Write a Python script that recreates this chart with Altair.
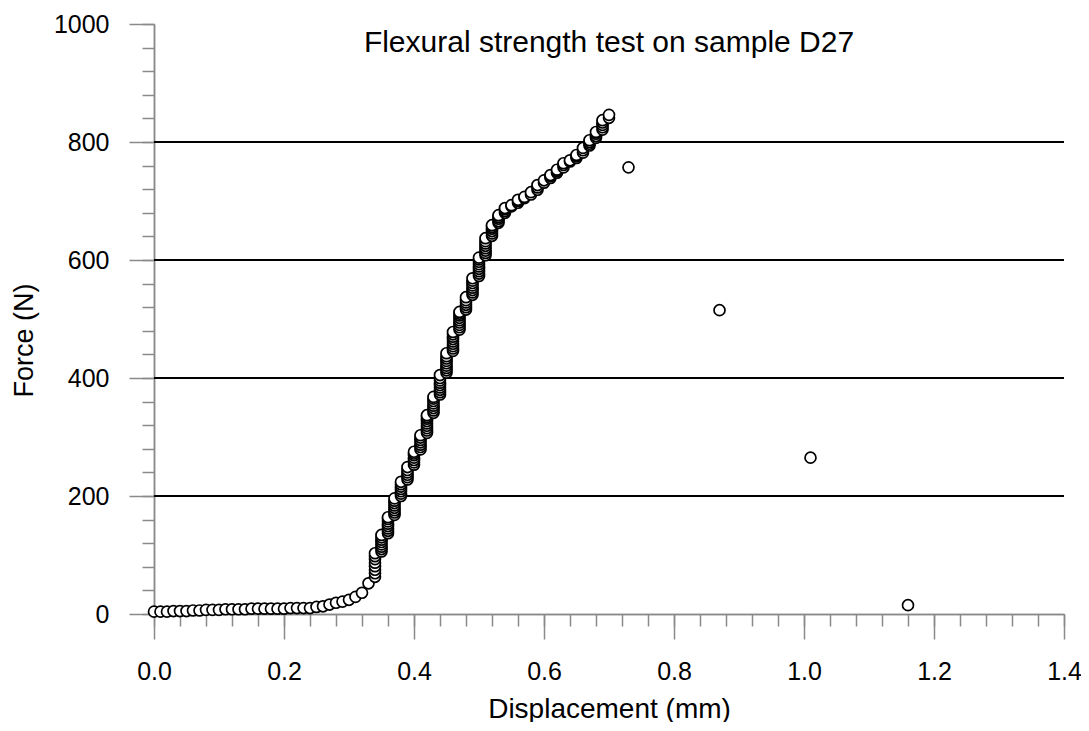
import altair as alt
import pandas as pd

TITLE = "Flexural strength test on sample D27"
X_TITLE = "Displacement (mm)"
Y_TITLE = "Force (N)"

# displacement columns (mm)
col_disp = [0.00, 0.01, 0.02, 0.03, 0.04, 0.05, 0.06, 0.07, 0.08, 0.09,
            0.10, 0.11, 0.12, 0.13, 0.14, 0.15, 0.16, 0.17, 0.18, 0.19,
            0.20, 0.21, 0.22, 0.23, 0.24, 0.25, 0.26, 0.27, 0.28, 0.29,
            0.30, 0.31, 0.32, 0.33, 0.34, 0.35, 0.36, 0.37, 0.38, 0.39,
            0.40, 0.41, 0.42, 0.43, 0.44, 0.45, 0.46, 0.47, 0.48, 0.49,
            0.50, 0.51, 0.52, 0.53, 0.54, 0.55, 0.56, 0.57, 0.58, 0.59,
            0.60, 0.61, 0.62, 0.63, 0.64, 0.65, 0.66, 0.67, 0.68, 0.69,
            0.70, 0.73, 0.87, 1.01, 1.16]

# forces (N) recorded at each displacement column
col_force = [[4], [4], [4], [5], [5], [5], [6], [6], [7], [7],
             [7], [8], [8], [8], [8], [9], [9], [9], [9], [9],
             [9], [10], [10], [10], [10], [12], [13], [16], [19], [21],
             [24], [29], [36], [52],
             [63, 69, 75, 81, 87, 93, 98, 103],
             [106, 110, 114, 118, 122, 126, 130, 134],
             [137, 141, 145, 149, 153, 157, 161, 164],
             [168, 172, 176, 180, 184, 188, 192, 196],
             [200, 204, 208, 212, 216, 220, 224],
             [228, 232, 236, 240, 244, 249],
             [253, 257, 261, 265, 269, 272, 275],
             [279, 283, 287, 291, 295, 299, 303],
             [307, 311, 315, 319, 323, 327, 331, 334, 337],
             [341, 345, 349, 353, 357, 361, 365, 368],
             [372, 376, 380, 384, 388, 392, 396, 400, 405],
             [409, 413, 417, 421, 425, 429, 433, 437, 442],
             [446, 450, 454, 458, 462, 466, 470, 474, 478],
             [482, 486, 490, 494, 498, 502, 506, 509, 512],
             [516, 520, 524, 528, 532, 537],
             [541, 545, 549, 553, 557, 561, 565, 569],
             [573, 577, 581, 585, 589, 593, 597, 601, 604],
             [608, 612, 616, 620, 624, 628, 632, 637],
             [641, 645, 649, 653, 656, 659],
             [663, 666, 670, 673, 676],
             [680, 683, 686, 688],
             [691, 693],
             [697, 700, 702],
             [705, 707],
             [711, 715],
             [719, 723, 727],
             [731, 735],
             [739, 742, 744],
             [748, 751, 753],
             [757, 761, 764],
             [767, 769],
             [773, 776, 778],
             [782, 786, 790],
             [794, 797, 800, 803],
             [807, 810, 814, 817],
             [821, 825, 829, 833, 837],
             [841, 846],
             [757], [515], [265], [15]]

# axis ticks
x_major_ticks = [0.0, 0.2, 0.4, 0.6, 0.8, 1.0, 1.2, 1.4]
x_minor_ticks = [0.0, 0.04, 0.08, 0.12, 0.16, 0.2, 0.24, 0.28, 0.32, 0.36,
                 0.4, 0.44, 0.48, 0.52, 0.56, 0.6, 0.64, 0.68, 0.72, 0.76,
                 0.8, 0.84, 0.88, 0.92, 0.96, 1.0, 1.04, 1.08, 1.12, 1.16,
                 1.2, 1.24, 1.28, 1.32, 1.36, 1.4]
y_major_ticks = [0, 200, 400, 600, 800, 1000]
y_minor_ticks = [0, 40, 80, 120, 160, 200, 240, 280, 320, 360, 400, 440,
                 480, 520, 560, 600, 640, 680, 720, 760, 800, 840, 880, 920,
                 960, 1000]
grid_levels = [200, 400, 600, 800]

rows = []
for d, fs in zip(col_disp, col_force):
    for f in fs:
        rows.append({"disp": d, "force": f})
df = pd.DataFrame(rows)
df["order"] = range(len(df))

FONT = "Liberation Sans"
AXIS_GREY = "#8a8a8a"
X_SCALE = alt.Scale(domain=[0, 1.4], nice=False, zero=False)
Y_SCALE = alt.Scale(domain=[0, 1000], nice=False)

common = dict(
    labelOverlap=False, labelFlush=False, labelFont=FONT, labelFontSize=25,
    labelColor="black", tickColor=AXIS_GREY, tickWidth=1.5,
    domainColor=AXIS_GREY, domainWidth=1.5, grid=False,
)
title_style = dict(titleFont=FONT, titleFontWeight="normal", titleColor="black")

# invisible layer that carries the minor ticks
minor = alt.Chart(df).mark_point(opacity=0).encode(
    x=alt.X("disp:Q", scale=X_SCALE, axis=alt.Axis(
        orient="bottom", values=x_minor_ticks, tickSize=12, labels=False,
        title=None, **common)),
    y=alt.Y("force:Q", scale=Y_SCALE, axis=alt.Axis(
        orient="left", values=y_minor_ticks, tickSize=12, labels=False,
        title=None, **common)),
)

grid = alt.Chart(pd.DataFrame({"level": grid_levels})).mark_rule(
    color="black", strokeWidth=2
).encode(y=alt.Y("level:Q", scale=Y_SCALE, axis=None))

points = alt.Chart(df).mark_point(
    shape="circle", filled=True, fill="white", stroke="black",
    strokeWidth=1.7, size=120, opacity=1, fillOpacity=1, strokeOpacity=1,
).encode(
    x=alt.X("disp:Q", scale=X_SCALE, axis=alt.Axis(
        orient="bottom", title=X_TITLE, values=x_major_ticks, format=".1f",
        tickSize=25, labelPadding=20, titleFontSize=28,
        titleY=81, titleBaseline="top", **common, **title_style)),
    y=alt.Y("force:Q", scale=Y_SCALE, axis=alt.Axis(
        orient="left", title=Y_TITLE, values=y_major_ticks, format="d",
        tickSize=25, labelPadding=20, titleFontSize=27,
        titleX=-130, titleY=316, titleBaseline="middle", **common, **title_style)),
    order="order:Q",
)

title = alt.Chart(pd.DataFrame({"t": [TITLE]})).mark_text(
    font=FONT, fontSize=30, color="black", align="center", baseline="middle"
).encode(text="t:N", x=alt.value(455), y=alt.value(19))

chart = alt.layer(minor, grid, points, title).resolve_axis(
    x="independent", y="independent"
).properties(
    width=910,
    height=590,
    autosize=alt.AutoSizeParams(type="none"),
    padding={"left": 146, "top": 16, "right": 17, "bottom": 108},
).configure_view(stroke=None)

chart.save("out.html", embed_options={"renderer": "svg", "actions": False})
